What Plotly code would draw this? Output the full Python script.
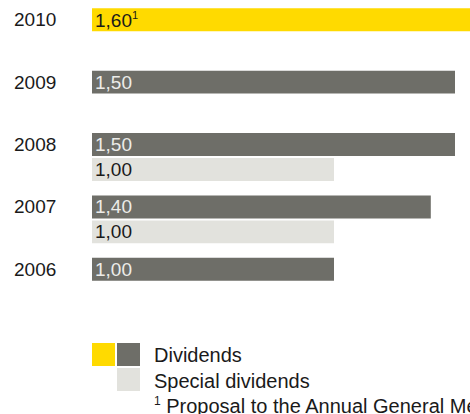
import plotly.graph_objects as go

years = ["2010", "2009", "2008", "2007", "2006"]
dividends = [1.60, 1.50, 1.50, 1.40, 1.00]
dividend_labels = ["1,60<sup><span style='font-size:11px'>1</span></sup>",
                   "1,50", "1,50", "1,40", "1,00"]
special = [None, None, 1.00, 1.00, None]
special_labels = ["", "", "1,00", "1,00", ""]

YELLOW = "#FFDA00"
DARK = "#6E6E68"
LIGHT = "#E2E2DD"
INK = "#1A1A1A"
FONT = "Liberation Sans, Arial, Helvetica, sans-serif"

W, H = 470, 414
ML, MR, MT, MB = 92, 0, 1, 101
PW, PH = W - ML - MR, H - MT - MB
px_per_unit = 242.0  # 1,00 spans 242 px


def xp(px):
    return (px - ML) / PW


def yp(py):
    return (H - MB - py) / PH


div_colors = [YELLOW if y == "2010" else DARK for y in years]
div_text_colors = [INK if y == "2010" else "#ECECE8" for y in years]

fig = go.Figure()
fig.add_trace(go.Bar(
    y=years, x=dividends, orientation="h", name="Dividends",
    marker=dict(color=div_colors, line=dict(width=0)),
    text=dividend_labels, textposition="inside", insidetextanchor="start",
    constraintext="none",
    textfont=dict(family=FONT, size=19, color=div_text_colors),
    hoverinfo="skip",
))
fig.add_trace(go.Bar(
    y=years, x=special, orientation="h", name="Special dividends",
    marker=dict(color=LIGHT, line=dict(width=0)),
    text=special_labels, textposition="inside", insidetextanchor="start",
    constraintext="none",
    textfont=dict(family=FONT, size=19, color=INK),
    hoverinfo="skip",
))

annotations = []
for i, y in enumerate(years):
    annotations.append(dict(
        x=xp(12), xref="paper", y=i, yref="y", yshift=12.5,
        text=y, showarrow=False, xanchor="left", yanchor="middle",
        font=dict(family=FONT, size=19, color=INK),
    ))

annotations += [
    dict(x=xp(152), xref="paper", y=yp(355), yref="paper", text="Dividends",
         showarrow=False, xanchor="left", yanchor="middle",
         font=dict(family=FONT, size=20, color=INK)),
    dict(x=xp(152), xref="paper", y=yp(381), yref="paper", text="Special dividends",
         showarrow=False, xanchor="left", yanchor="middle",
         font=dict(family=FONT, size=20, color=INK)),
    dict(x=xp(152), xref="paper", y=yp(405), yref="paper",
         text="<sup><span style='font-size:12px'>1</span></sup> Proposal to the Annual General Meeting",
         showarrow=False, xanchor="left", yanchor="middle",
         font=dict(family=FONT, size=20, color=INK)),
]

shapes = [
    dict(type="rect", xref="paper", yref="paper", x0=xp(92), x1=xp(115),
         y0=yp(366), y1=yp(343), fillcolor=YELLOW, line=dict(width=0)),
    dict(type="rect", xref="paper", yref="paper", x0=xp(117), x1=xp(140),
         y0=yp(366), y1=yp(343), fillcolor=DARK, line=dict(width=0)),
    dict(type="rect", xref="paper", yref="paper", x0=xp(117), x1=xp(140),
         y0=yp(391), y1=yp(368), fillcolor=LIGHT, line=dict(width=0)),
]

fig.update_layout(
    width=W, height=H,
    margin=dict(l=ML, r=MR, t=MT, b=MB, pad=0),
    paper_bgcolor="white", plot_bgcolor="white",
    barmode="group", bargap=0.2, bargroupgap=0.08,
    showlegend=False,
    xaxis=dict(range=[0, PW / px_per_unit], visible=False, fixedrange=True),
    yaxis=dict(type="category", categoryorder="array", categoryarray=years,
               range=[len(years) - 0.5, -0.5], autorange=False,
               showticklabels=False, showgrid=False,
               zeroline=False, showline=False, ticks="", fixedrange=True),
    annotations=annotations, shapes=shapes,
    font=dict(family=FONT, color=INK),
)

fig.write_html("out.html", config={"displayModeBar": False})
